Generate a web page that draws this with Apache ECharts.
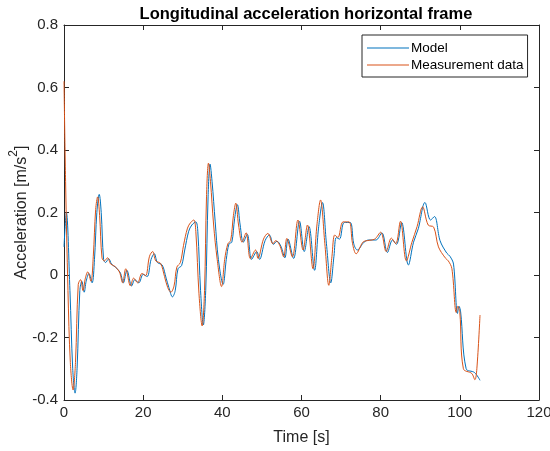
<!DOCTYPE html>
<html>
<head>
<meta charset="utf-8">
<script src="https://cdn.jsdelivr.net/npm/echarts@6/dist/echarts.min.js"></script>
<style>
  html, body { margin: 0; padding: 0; background: #fff; }
  #chart { width: 550px; height: 451px; }
</style>
</head>
<body>
<div id="chart"></div>
<script>
// Model (blue)
const modelTime = [0, 0.6, 1.5, 2.2, 2.8, 3.3, 4.0, 4.5, 5.1, 5.6, 6.3, 7.1, 7.7, 8.3, 8.9, 9.4, 10.0, 10.5, 11.3, 12.0,
  13.0, 14.2, 15.0, 15.9, 17.1, 17.9, 18.9, 20.0, 21.0, 22.0, 22.8, 23.6, 24.8, 25.8, 26.5, 27.4, 28.1, 28.8, 29.7, 30.5,
  31.5, 32.3, 33.3, 33.8, 34.5, 35.2, 35.8, 36.4, 36.9, 37.4, 38.2, 39.0, 40.2, 41.0, 41.7, 42.4, 43.1, 43.8, 44.5, 45.3,
  46.3, 47.4, 48.7, 49.4, 50.8, 51.9, 52.9, 53.8, 54.8, 55.8, 56.6, 58.0, 59.5, 60.7, 61.9, 63.3, 64.3, 65.3, 66.3, 67.4,
  68.2, 68.8, 69.6, 70.8, 72.3, 73.2, 74.1, 75.8, 77.0, 78.8, 80.3, 81.7, 83.0, 84.0, 85.3, 87.0, 88.3, 89.5, 91.2, 92.6,
  93.6, 95.0, 96.7, 97.5, 98.4, 99.4, 99.8, 100.2, 101.6, 103.7, 105.1];
const modelAcc = [0.09, 0.2, -0.05, -0.3, -0.378, -0.3, -0.05, -0.02, -0.055, -0.02, 0.005, -0.025, 0.05, 0.2, 0.258, 0.2, 0.05, 0.04, 0.052, 0.035,
  0.025, 0.008, -0.025, 0.015, -0.035, -0.015, -0.025, 0.002, -0.005, 0.05, 0.068, 0.04, 0.032, -0.01, -0.04, -0.07, -0.05, 0.02, 0.03, 0.08,
  0.14, 0.16, 0.17, 0.14, -0.05, -0.16, -0.05, 0.25, 0.355, 0.3, 0.17, 0.05, -0.03, 0.05, 0.1, 0.105, 0.18, 0.225, 0.16, 0.105,
  0.13, 0.05, 0.075, 0.05, 0.11, 0.128, 0.098, 0.108, 0.092, 0.055, 0.115, 0.053, 0.172, 0.075, 0.155, 0.015, 0.15, 0.232, 0.1, -0.025,
  0.06, 0.12, 0.115, 0.168, 0.168, 0.1, 0.08, 0.105, 0.112, 0.112, 0.135, 0.072, 0.112, 0.098, 0.168, 0.032, 0.105, 0.148, 0.232, 0.176,
  0.187, 0.11, 0.07, 0.06, 0.035, -0.123, -0.1, -0.118, -0.3, -0.312, -0.337];

// Measurement data (orange)
const measTime = [0, 0.4, 1.0, 1.6, 2.3, 2.9, 3.6, 4.2, 4.8, 5.4, 6.0, 6.8, 7.4, 8.0, 8.5, 9.0, 9.6, 10.2, 11.0, 11.8,
  12.8, 14.0, 14.8, 15.6, 16.8, 17.6, 18.6, 19.7, 20.6, 21.6, 22.4, 23.2, 24.4, 25.4, 26.2, 27.0, 27.8, 28.5, 29.4, 30.2,
  31.2, 32.0, 32.8, 33.3, 34.1, 34.9, 35.5, 36.0, 36.5, 37.0, 37.8, 38.7, 39.8, 40.6, 41.4, 42.1, 42.8, 43.4, 44.1, 45.0,
  46.0, 47.1, 48.4, 49.0, 50.4, 51.5, 52.8, 53.5, 54.5, 55.5, 56.3, 57.7, 59.1, 60.4, 61.5, 62.9, 63.9, 64.8, 65.9, 66.9,
  67.7, 68.4, 69.2, 70.5, 72.0, 72.9, 73.8, 75.5, 76.6, 78.5, 80.0, 81.4, 82.7, 83.8, 85.0, 86.5, 87.9, 89.2, 90.6, 92.0,
  93.4, 94.6, 96.3, 97.1, 98.0, 99.1, 99.5, 100.0, 100.9, 103.0, 103.8, 104.3, 105.1];
const measAcc = [0.62, 0.3, -0.05, -0.28, -0.368, -0.28, -0.03, -0.015, -0.05, -0.01, 0.01, -0.02, 0.06, 0.21, 0.25, 0.19, 0.055, 0.045, 0.055, 0.035,
  0.028, 0.01, -0.025, 0.02, -0.035, -0.01, -0.025, 0.005, -0.002, 0.06, 0.075, 0.045, 0.037, -0.005, -0.04, -0.055, -0.035, 0.025, 0.04, 0.095,
  0.15, 0.168, 0.176, 0.14, -0.06, -0.163, -0.05, 0.25, 0.358, 0.3, 0.16, 0.05, -0.037, 0.05, 0.1, 0.11, 0.19, 0.23, 0.16, 0.105,
  0.135, 0.052, 0.08, 0.053, 0.115, 0.133, 0.1, 0.11, 0.095, 0.058, 0.117, 0.058, 0.176, 0.08, 0.16, 0.02, 0.16, 0.24, 0.1, -0.033,
  0.06, 0.128, 0.12, 0.17, 0.17, 0.1, 0.068, 0.105, 0.11, 0.115, 0.137, 0.075, 0.118, 0.1, 0.172, 0.045, 0.105, 0.155, 0.218, 0.16,
  0.153, 0.09, 0.055, 0.045, 0.02, -0.12, -0.1, -0.12, -0.3, -0.315, -0.335, -0.3, -0.128];

const seriesNames = ['Model', 'Measurement data'];
const xMin = 0, xMax = 120, xStep = 20;
const yMin = -0.4, yMax = 0.8, yStep = 0.2;

const axisColor = '#262626';
const font = 'Liberation Sans, Arial, sans-serif';

function pairs(xs, ys) {
  return xs.map((x, i) => [x, ys[i]]);
}

const chart = echarts.init(document.getElementById('chart'), null, { renderer: 'canvas' });

const axisCommon = {
  axisLine: { show: true, onZero: false, lineStyle: { color: axisColor, width: 1 } },
  axisTick: { show: true, inside: true, length: 5, lineStyle: { color: axisColor } },
  splitLine: { show: false },
  axisLabel: { color: axisColor, fontSize: 15, fontFamily: font }
};

const option = {
  animation: false,
  backgroundColor: '#fff',
  title: {
    text: 'Longitudinal acceleration horizontal frame',
    left: 301, top: 1, textAlign: 'center',
    textStyle: { fontSize: 16.5, fontWeight: 'bold', color: '#000', fontFamily: font }
  },
  legend: {
    orient: 'vertical',
    left: 362, top: 35,
    padding: [6, 4, 5, 5],
    itemGap: 3,
    itemWidth: 42,
    itemHeight: 15,
    borderColor: axisColor, borderWidth: 1,
    borderRadius: 0,
    backgroundColor: '#fff',
    textStyle: { fontSize: 13.5, color: '#000', fontFamily: font, padding: [0, 0, 0, -3] },
    data: seriesNames.map(n => ({ name: n, icon: 'path://M0,7 L42,7 L42,8 L0,8 Z' }))
  },
  grid: { left: 64, right: 11, top: 25, bottom: 51, containLabel: false, outerBoundsMode: 'none' },
  xAxis: [
    Object.assign({}, axisCommon, {
      type: 'value', min: xMin, max: xMax, interval: xStep, position: 'bottom',
      name: 'Time [s]', nameLocation: 'middle', nameGap: 30, nameMoveOverlap: false,
      nameTextStyle: { fontSize: 16, color: axisColor, fontFamily: font },
      axisLabel: Object.assign({}, axisCommon.axisLabel, { margin: 5 })
    }),
    Object.assign({}, axisCommon, {
      type: 'value', min: xMin, max: xMax, interval: xStep, position: 'top',
      axisLabel: { show: false }
    })
  ],
  yAxis: [
    Object.assign({}, axisCommon, {
      type: 'value', min: yMin, max: yMax, interval: yStep, position: 'left',
      name: '{a|Acceleration [m/s}{s|2}{a|]}', nameLocation: 'middle', nameGap: 34, nameRotate: 90,
      nameMoveOverlap: false,
      nameTextStyle: {
        rich: {
          a: { fontSize: 16, color: axisColor, fontFamily: font, lineHeight: 22, verticalAlign: 'bottom' },
          s: { fontSize: 12, color: axisColor, fontFamily: font, lineHeight: 22, verticalAlign: 'top' }
        }
      },
      axisLabel: Object.assign({}, axisCommon.axisLabel, { margin: 6 })
    }),
    Object.assign({}, axisCommon, {
      type: 'value', min: yMin, max: yMax, interval: yStep, position: 'right',
      axisLabel: { show: false }
    })
  ],
  series: [
    {
      name: seriesNames[0], type: 'line', data: pairs(modelTime, modelAcc),
      showSymbol: false, smooth: 0.35, color: '#0072BD',
      lineStyle: { width: 1, color: '#0072BD' }
    },
    {
      name: seriesNames[1], type: 'line', data: pairs(measTime, measAcc),
      showSymbol: false, smooth: 0.35, color: '#D95319',
      lineStyle: { width: 1, color: '#D95319' }
    }
  ]
};

chart.setOption(option);
</script>
</body>
</html>
